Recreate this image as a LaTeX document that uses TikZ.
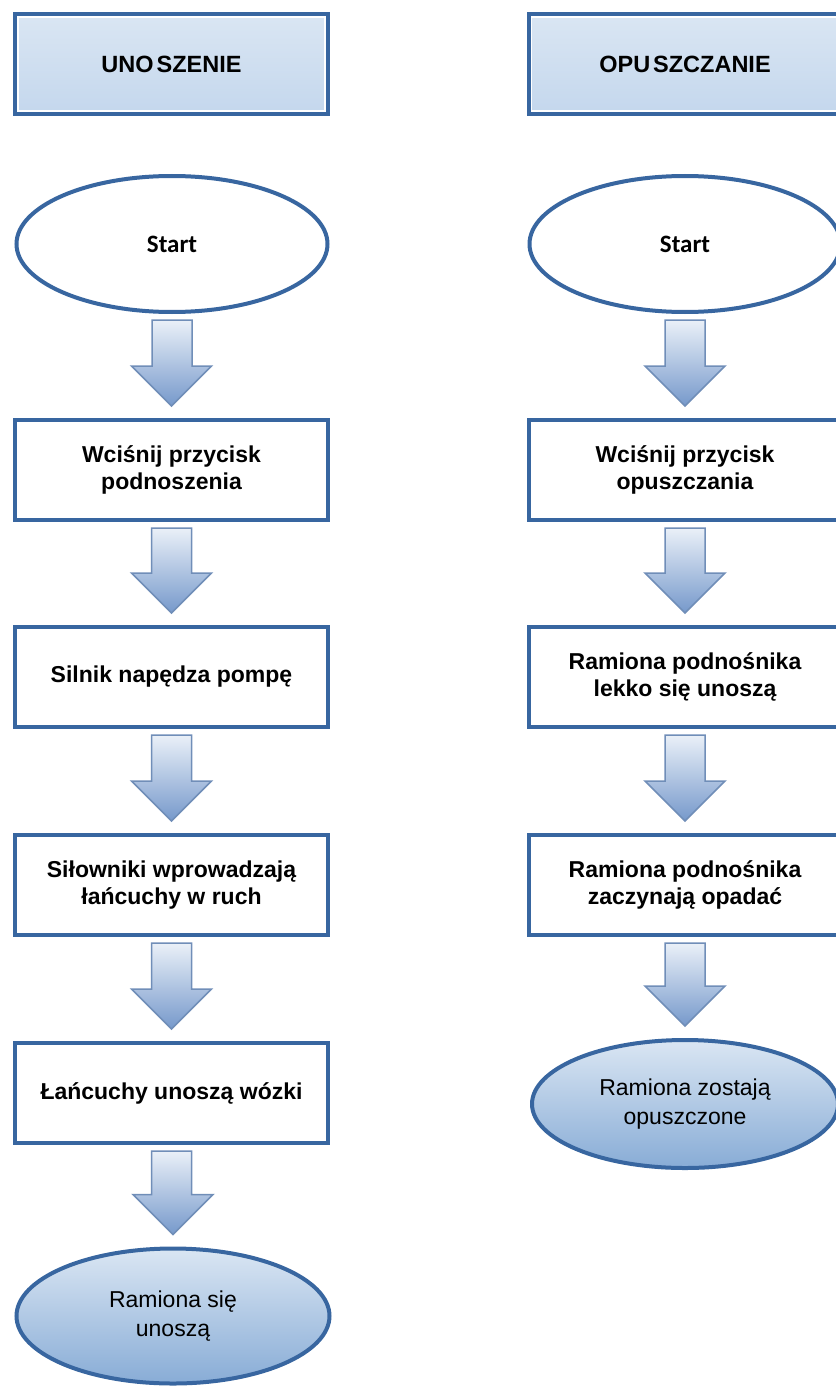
\documentclass[tikz,border=0pt]{standalone}
\usepackage{fontspec}
\setmainfont{Liberation Sans}
\newfontfamily\startfont{Carlito}
\usetikzlibrary{
    calc,
    shapes.geometric
}
\definecolor{frameblue}{RGB}{56,102,160}
\definecolor{arrowline}{RGB}{112,142,184}
\tikzset{
    x=1pt, y=-1pt,
    header/.style={draw=frameblue, line width=4pt, minimum width=313pt, minimum height=100pt,
        top color={rgb,255:red,218;green,230;blue,243}, middle color={rgb,255:red,152;green,184;blue,221},
        bottom color={rgb,255:red,196;green,215;blue,237}, font=\fontsize{23.5}{26}\selectfont\bfseries},
    stepbox/.style={draw=frameblue, line width=4pt, fill=white, minimum width=313pt, minimum height=100pt,
        align=center, font=\fontsize{23}{27}\selectfont\bfseries},
    startnode/.style={ellipse, draw=frameblue, line width=4pt, fill=white, inner sep=0pt,
        minimum width=311pt, minimum height=136pt, font=\fontsize{25}{28}\startfont\bfseries},
    endnode/.style={ellipse, draw=frameblue, line width=4pt, inner sep=0pt, align=center,
        top color={rgb,255:red,218;green,230;blue,243}, bottom color={rgb,255:red,136;green,172;blue,214},
        font=\fontsize{23}{29}\selectfont},
    flowarrow/.style={draw=arrowline, line width=1.5pt, line join=miter,
        top color={rgb,255:red,234;green,240;blue,248}, bottom color={rgb,255:red,118;green,153;blue,203}}
}
\newcommand{\flowstep}[2]{%
    \draw[flowarrow] ($(#1.south)+(-20,6)$) -- ($(#1.south)+(20,6)$)
        |- ($(#2.north)+(40,-52)$) -- ($(#2.north)+(0,-12)$)
        -- ($(#2.north)+(-40,-52)$) -| cycle;}
\newcommand{\headerline}[1]{%
    \draw[white, line width=1.5pt] ($(#1.north west)+(5,5)$) rectangle ($(#1.south east)+(-5,-5)$);}

\begin{document}
\begin{tikzpicture}
\useasboundingbox (0,0) rectangle (835,1388);
% unoszenie
\node[header] (hl) at (171.5,64) {UNO\kern3pt SZENIE};
\headerline{hl}
\node[startnode] (sl) at (172,244) {Start};
\node[stepbox] (l1) at (171.5,470) {Wciśnij przycisk\\podnoszenia};
\node[stepbox] (l2) at (171.5,677) {Silnik napędza pompę};
\node[stepbox] (l3) at (171.5,885) {Siłowniki wprowadzają\\łańcuchy w ruch};
\node[stepbox] (l4) at (171.5,1093) {Łańcuchy unoszą wózki};
\node[endnode, minimum width=313pt, minimum height=135pt] (el) at (173,1316) {Ramiona się\\unoszą};
\flowstep{sl}{l1}
\flowstep{l1}{l2}
\flowstep{l2}{l3}
\flowstep{l3}{l4}
\flowstep{l4}{el}
% opuszczanie
\node[header] (hr) at (685,64) {OPU\kern3pt SZCZANIE};
\headerline{hr}
\node[startnode] (sr) at (685,244) {Start};
\node[stepbox] (r1) at (685,470) {Wciśnij przycisk\\opuszczania};
\node[stepbox] (r2) at (685,677) {Ramiona podnośnika\\lekko się unoszą};
\node[stepbox] (r3) at (685,885) {Ramiona podnośnika\\zaczynają opadać};
\node[endnode, minimum width=306pt, minimum height=128pt] (er) at (685,1104) {Ramiona zostają\\opuszczone};
\flowstep{sr}{r1}
\flowstep{r1}{r2}
\flowstep{r2}{r3}
\flowstep{r3}{er}
\end{tikzpicture}
\end{document}
